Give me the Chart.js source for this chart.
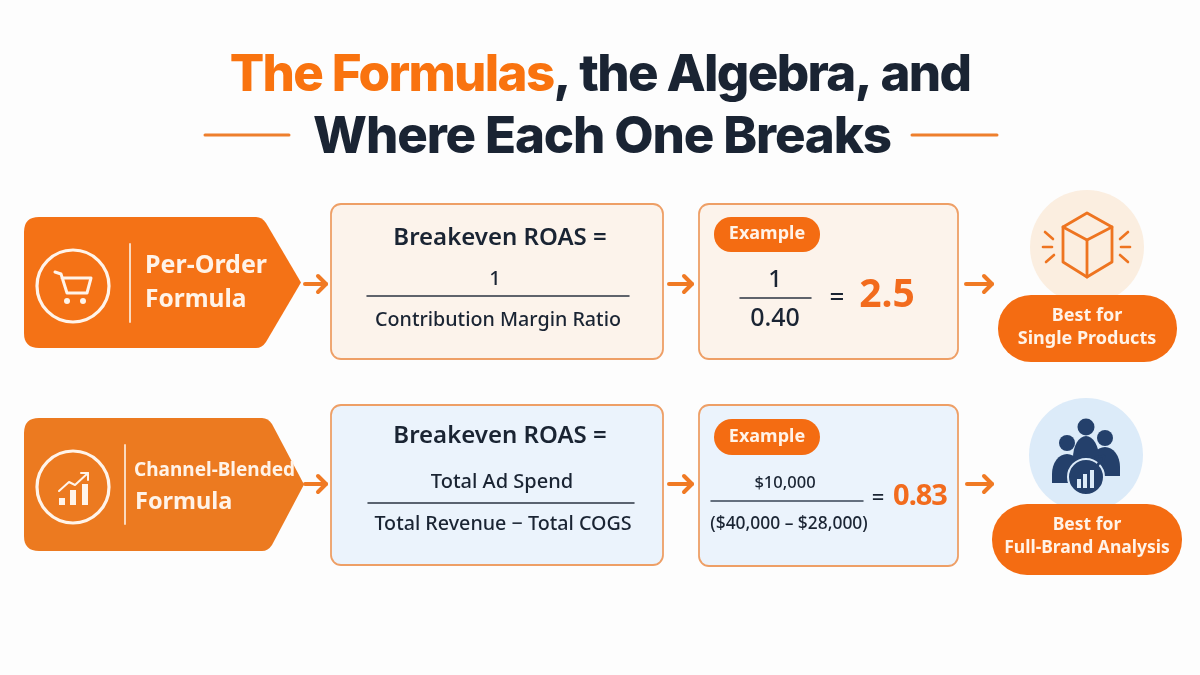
<!DOCTYPE html>
<html>
<head>
<meta charset="utf-8">
<title>The Formulas, the Algebra, and Where Each One Breaks</title>
<script src="https://cdn.jsdelivr.net/npm/chart.js@4/dist/chart.umd.min.js"></script>
<style>
  html, body { margin: 0; padding: 0; background: #fdfdfd; }
  canvas { display: block; }
</style>
</head>
<body>
<canvas id="sheet" width="1200" height="675"></canvas>
<script>
// Text content of the sheet
const titleAccent = 'The Formulas';
const titleRest = ', the Algebra, and';
const titleSecond = 'Where Each One Breaks';
const tagFirst = ['Per-Order', 'Formula'];
const tagSecond = ['Channel-Blended', 'Formula'];
const heading = 'Breakeven ROAS =';
const formulaFirst = ['1', 'Contribution Margin Ratio'];
const formulaSecond = ['Total Ad Spend', 'Total Revenue − Total COGS'];
const exampleLabel = 'Example';
const exampleFirst = ['1', '0.40'];
const exampleSecond = ['$10,000', '($40,000 – $28,000)'];
const resultFirst = '2.5';
const resultSecond = '0.83';
const bestFirst = ['Best for', 'Single Products'];
const bestSecond = ['Best for', 'Full-Brand Analysis'];

const ORANGE = '#f46c12';
const INK = '#1a2433';
const NAVY = '#24406b';
const BODY = '"Noto Sans", sans-serif';

const sheetPlugin = {
  id: 'sheet',
  beforeDraw(chart) {
    const ctx = chart.ctx;
    const X = v => chart.scales.x.getPixelForValue(v);
    const Y = v => chart.scales.y.getPixelForValue(v);

    function text(str, x, y, font, color, align, spacing) {
      ctx.font = font;
      ctx.fillStyle = color;
      ctx.textAlign = align || 'center';
      ctx.textBaseline = 'middle';
      ctx.letterSpacing = spacing || '0px';
      // Noto sits a little high on the middle baseline
      ctx.fillText(str, X(x), Y(font.includes('Noto') ? y + 2 : y));
      ctx.letterSpacing = '0px';
    }
    function seg(x1, y1, x2, y2, color, w) {
      ctx.beginPath();
      ctx.moveTo(X(x1), Y(y1));
      ctx.lineTo(X(x2), Y(y2));
      ctx.strokeStyle = color;
      ctx.lineWidth = w;
      ctx.lineCap = 'round';
      ctx.stroke();
    }
    function poly(pts, color, w, close) {
      ctx.beginPath();
      pts.forEach((p, i) => i ? ctx.lineTo(X(p[0]), Y(p[1])) : ctx.moveTo(X(p[0]), Y(p[1])));
      if (close) ctx.closePath();
      ctx.strokeStyle = color;
      ctx.lineWidth = w;
      ctx.lineCap = 'round';
      ctx.lineJoin = 'round';
      ctx.stroke();
    }
    function disc(x, y, r, fill, stroke, w) {
      ctx.beginPath();
      ctx.arc(X(x), Y(y), r, 0, Math.PI * 2);
      if (fill) { ctx.fillStyle = fill; ctx.fill(); }
      if (stroke) { ctx.strokeStyle = stroke; ctx.lineWidth = w; ctx.stroke(); }
    }
    function round(x, y, w, h, r, fill, stroke) {
      ctx.beginPath();
      ctx.roundRect(X(x), Y(y), w, h, r);
      ctx.fillStyle = fill;
      ctx.fill();
      if (stroke) { ctx.strokeStyle = stroke; ctx.lineWidth = 1.8; ctx.stroke(); }
    }
    function tag(x0, x1, shoulder, y0, y1, color) {
      const mid = (y0 + y1) / 2, r = 15;
      ctx.beginPath();
      ctx.moveTo(X(x0 + r), Y(y0));
      ctx.lineTo(X(shoulder - 6), Y(y0));
      ctx.quadraticCurveTo(X(shoulder), Y(y0), X(shoulder + 4), Y(y0 + 6));
      ctx.lineTo(X(x1), Y(mid));
      ctx.lineTo(X(shoulder + 4), Y(y1 - 6));
      ctx.quadraticCurveTo(X(shoulder), Y(y1), X(shoulder - 6), Y(y1));
      ctx.lineTo(X(x0 + r), Y(y1));
      ctx.quadraticCurveTo(X(x0), Y(y1), X(x0), Y(y1 - r));
      ctx.lineTo(X(x0), Y(y0 + r));
      ctx.quadraticCurveTo(X(x0), Y(y0), X(x0 + r), Y(y0));
      ctx.fillStyle = color;
      ctx.fill();
    }
    function arrow(x0, x1, y) {
      seg(x0, y, x1, y, '#f07a24', 4);
      poly([[x1 - 8, y - 8], [x1, y], [x1 - 8, y + 8]], '#f07a24', 4);
    }

    // page
    ctx.fillStyle = '#fdfdfd';
    ctx.fillRect(0, 0, chart.width, chart.height);

    // title
    const titleFont = '800 51px Inter, sans-serif';
    ctx.font = titleFont;
    ctx.letterSpacing = '-1.67px';
    const w1 = ctx.measureText(titleAccent).width, w2 = ctx.measureText(titleRest).width;
    ctx.letterSpacing = '0px';
    const start = 600 - (w1 + w2) / 2;
    text(titleAccent, start, 76, titleFont, '#f9730f', 'left', '-1.67px');
    text(titleRest, start + w1, 76, titleFont, INK, 'left', '-1.67px');
    text(titleSecond, 602, 138, titleFont, INK, 'center', '-1.15px');
    seg(205, 135, 289, 135, '#ee7f2d', 3);
    seg(912, 135, 997, 135, '#ee7f2d', 3);

    // first row
    tag(24, 301, 262, 217, 348, '#f47216');
    disc(73, 286, 36, null, '#fff4ea', 3.2);
    seg(130, 244, 130, 322, '#fbd9bd', 2);
    poly([[55, 272], [61, 274], [67, 293], [87, 293], [91, 278], [62, 278]], '#fff4ea', 3);
    disc(67, 301, 3, '#fff4ea');
    disc(83, 301, 3, '#fff4ea');
    text(tagFirst[0], 145, 264, '700 25px ' + BODY, '#fff3e8', 'left');
    text(tagFirst[1], 145, 298, '700 24.5px ' + BODY, '#fff3e8', 'left');
    arrow(305, 326, 284);

    round(331, 204, 332, 155, 10, '#fcf3eb', '#ee9f66');
    text(heading, 500, 236, '600 24px ' + BODY, INK);
    text(formulaFirst[0], 495, 277, '500 20px ' + BODY, INK);
    seg(367, 296, 629, 296, '#2b3442', 1.5);
    text(formulaFirst[1], 498, 318, '500 19.7px ' + BODY, INK);
    arrow(669, 692, 284);

    round(699, 204, 259, 155, 10, '#fcf3eb', '#ee9f66');
    round(714, 217, 106, 35, 17, ORANGE);
    text(exampleLabel, 767, 232, '700 18px ' + BODY, '#fff3e8');
    text(exampleFirst[0], 775, 278, '500 24px ' + BODY, INK);
    seg(740, 298, 811, 298, '#2b3442', 1.5);
    text(exampleFirst[1], 775, 317, '500 25px ' + BODY, INK);
    text('=', 837, 296, '500 26px ' + BODY, INK);
    text(resultFirst, 887, 294, '700 39px ' + BODY, '#f26b1d');
    arrow(966, 992, 284);

    disc(1087, 247, 57, '#fbeee0');
    poly([[1087, 213], [1112, 227], [1112, 262], [1087, 277], [1063, 262], [1063, 227]], '#ee7420', 2.8, true);
    poly([[1063, 227], [1087, 240], [1112, 227]], '#ee7420', 2.8);
    seg(1087, 240, 1087, 277, '#ee7420', 2.8);
    seg(1120, 239, 1128, 232, '#ee7420', 2.6);
    seg(1121, 247, 1130, 247, '#ee7420', 2.6);
    seg(1120, 255, 1128, 262, '#ee7420', 2.6);
    seg(1045, 232, 1053, 239, '#ee7420', 2.6);
    seg(1043, 247, 1052, 247, '#ee7420', 2.6);
    seg(1046, 262, 1054, 255, '#ee7420', 2.6);
    round(998, 295, 179, 67, 33, ORANGE);
    text(bestFirst[0], 1087, 314, '700 18px ' + BODY, '#fff3e8');
    text(bestFirst[1], 1087, 337, '700 18px ' + BODY, '#fff3e8');

    // second row
    tag(24, 304, 268, 418, 551, '#ec7a20');
    disc(73, 487, 36, null, '#fff4ea', 3.2);
    seg(125, 445, 125, 524, '#fbd9bd', 2);
    [[59, 498, 6, 7], [70, 490, 6, 15], [82, 484, 6, 21]].forEach(b => {
      ctx.fillStyle = '#fff4ea';
      ctx.fillRect(X(b[0]), Y(b[1]), b[2], b[3]);
    });
    poly([[59, 491], [69, 482], [75, 485], [88, 473]], '#fff4ea', 2);
    poly([[81, 473], [88, 473], [88, 480]], '#fff4ea', 2);
    text(tagSecond[0], 134, 469, '700 19px ' + BODY, '#fff3e8', 'left');
    text(tagSecond[1], 135, 500, '700 23.5px ' + BODY, '#fff3e8', 'left');
    arrow(305, 326, 484);

    round(331, 405, 332, 160, 10, '#ebf3fc', '#ee9f66');
    text(heading, 500, 434, '600 24px ' + BODY, INK);
    text(formulaSecond[0], 502, 480, '500 20px ' + BODY, INK);
    seg(368, 503, 634, 503, '#2b3442', 1.5);
    text(formulaSecond[1], 503, 522, '500 19.7px ' + BODY, INK);
    arrow(669, 692, 484);

    round(699, 405, 259, 161, 10, '#ebf3fc', '#ee9f66');
    round(714, 419, 106, 36, 18, ORANGE);
    text(exampleLabel, 767, 435, '700 18px ' + BODY, '#fff3e8');
    text(exampleSecond[0], 785, 481, '500 16.5px ' + BODY, INK);
    seg(711, 501, 863, 501, '#3a4656', 1.5);
    text(exampleSecond[1], 789, 522, '500 17.4px ' + BODY, INK);
    text('=', 878, 497, '500 22px ' + BODY, INK);
    text(resultSecond, 920, 495, '700 29px ' + BODY, '#f26b1d', 'center', '-1px');
    arrow(967, 992, 484);

    disc(1086, 455, 57, '#dcebf9');
    disc(1067, 443, 8, NAVY);
    disc(1105, 438, 8, NAVY);
    disc(1086, 427, 8.5, NAVY);
    [[1067, 477, 15], [1105, 470, 15]].forEach(p => {
      ctx.beginPath();
      ctx.ellipse(X(p[0]), Y(p[1] - 3), p[2], 20, 0, Math.PI, 0);
      ctx.lineTo(X(p[0] + p[2]), Y(p[1] + 6));
      ctx.lineTo(X(p[0] - p[2]), Y(p[1] + 6));
      ctx.closePath();
      ctx.fillStyle = NAVY;
      ctx.fill();
    });
    ctx.beginPath();
    ctx.ellipse(X(1086), Y(458), 13, 22, 0, Math.PI, 0);
    ctx.lineTo(X(1097), Y(470));
    ctx.lineTo(X(1075), Y(470));
    ctx.closePath();
    ctx.fillStyle = NAVY;
    ctx.fill();
    disc(1086, 477, 18, NAVY, '#dcebf9', 2);
    poly([[1097, 466], [1103, 457]], NAVY, 3);
    poly([[1096, 457], [1104, 456], [1103, 464]], NAVY, 2.5);
    [[1077, 479, 4, 9], [1083, 474, 4, 14], [1090, 470, 4, 18]].forEach(b => {
      ctx.fillStyle = '#dcebf9';
      ctx.fillRect(X(b[0]), Y(b[1]), b[2], b[3]);
    });
    round(992, 504, 190, 71, 35, ORANGE);
    text(bestSecond[0], 1087, 523, '700 17.5px ' + BODY, '#fff3e8');
    text(bestSecond[1], 1087, 546, '700 17.5px ' + BODY, '#fff3e8');
  }
};

new Chart(document.getElementById('sheet'), {
  type: 'scatter',
  data: { datasets: [] },
  options: {
    responsive: false,
    animation: false,
    devicePixelRatio: 1,
    layout: { padding: 0 },
    plugins: { legend: { display: false }, tooltip: { enabled: false } },
    scales: {
      x: { type: 'linear', min: 0, max: 1200, display: false },
      y: { type: 'linear', min: 0, max: 675, reverse: true, display: false }
    }
  },
  plugins: [sheetPlugin]
});
</script>
</body>
</html>
